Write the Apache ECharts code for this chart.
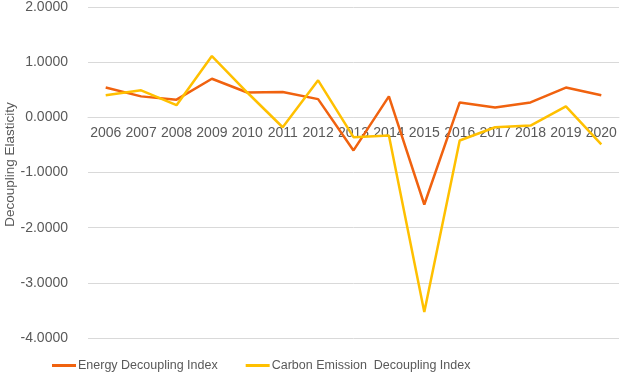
<!DOCTYPE html>
<html>
<head>
    <meta charset="utf-8">
    <script src="https://cdn.jsdelivr.net/npm/echarts@6/dist/echarts.min.js"></script>
    <style type="text/css">
        html, body { margin: 0; padding: 0; background: #fff; }
        #main { width: 620px; height: 375px; }
    </style>
</head>
<body>
    <div id="main"></div>
    <script>
        // years along the x axis
        var years = ['2006', '2007', '2008', '2009', '2010', '2011', '2012', '2013',
            '2014', '2015', '2016', '2017', '2018', '2019', '2020'];
        // values
        var energyIndex = [0.54, 0.38, 0.32, 0.70, 0.45, 0.46, 0.33, -0.60,
            0.38, -1.58, 0.27, 0.18, 0.27, 0.54, 0.40];
        var carbonIndex = [0.40, 0.49, 0.22, 1.11, 0.45, -0.18, 0.67, -0.36,
            -0.33, -3.53, -0.42, -0.18, -0.15, 0.20, -0.49];
        var seriesNames = ['Energy Decoupling Index', 'Carbon Emission  Decoupling Index'];

        var textColor = '#595959';
        var fontFam = '"Liberation Sans", Arial, sans-serif';
        var gridTop = 7, gridBottom = 37, yMin = -4, yMax = 2;
        // onZero does not take here, so lift the category axis up to the 0 line by hand
        var plotH = 375 - gridTop - gridBottom;
        var zeroOffset = -plotH * (0 - yMin) / (yMax - yMin);

        var myChart = echarts.init(document.getElementById('main'));
        var option = {
            color: ['#F0620F', '#FFC000'],
            animation: false,
            grid: { left: 88, right: 1, top: gridTop, bottom: gridBottom, outerBoundsMode: 'none', containLabel: false },
            legend: {
                bottom: -2,
                left: 47,
                icon: 'rect',
                itemWidth: 24,
                itemHeight: 3,
                itemGap: 28,
                textStyle: { color: textColor, fontSize: 12.5, fontFamily: fontFam, padding: [0, 0, 0, -3] },
                data: seriesNames
            },
            xAxis: {
                type: 'category',
                data: years,
                offset: zeroOffset,
                axisLine: { onZero: false, lineStyle: { color: '#D9D9D9' } },
                axisTick: { show: false },
                axisLabel: { color: textColor, fontSize: 14, fontFamily: fontFam, margin: 9, interval: 0 }
            },
            yAxis: {
                type: 'value',
                min: yMin,
                max: yMax,
                interval: 1,
                name: 'Decoupling Elasticity',
                nameLocation: 'middle',
                nameGap: 71,
                nameMoveOverlap: false,
                // left padding nudges the rotated title up a little
                nameTextStyle: { color: textColor, fontSize: 13.5, fontFamily: fontFam, padding: [0, 0, 0, 16] },
                axisLine: { show: false },
                axisTick: { show: false },
                splitLine: { lineStyle: { color: '#D9D9D9', width: 1 } },
                axisLabel: {
                    color: textColor, fontSize: 14, fontFamily: fontFam, margin: 20,
                    formatter: function (v) { return v.toFixed(4); }
                }
            },
            series: [{
                name: seriesNames[0],
                type: 'line',
                data: energyIndex,
                symbol: 'none',
                lineStyle: { width: 2.5 }
            }, {
                name: seriesNames[1],
                type: 'line',
                data: carbonIndex,
                symbol: 'none',
                lineStyle: { width: 2.5 }
            }]
        };
        myChart.setOption(option);
    </script>
</body>
</html>
